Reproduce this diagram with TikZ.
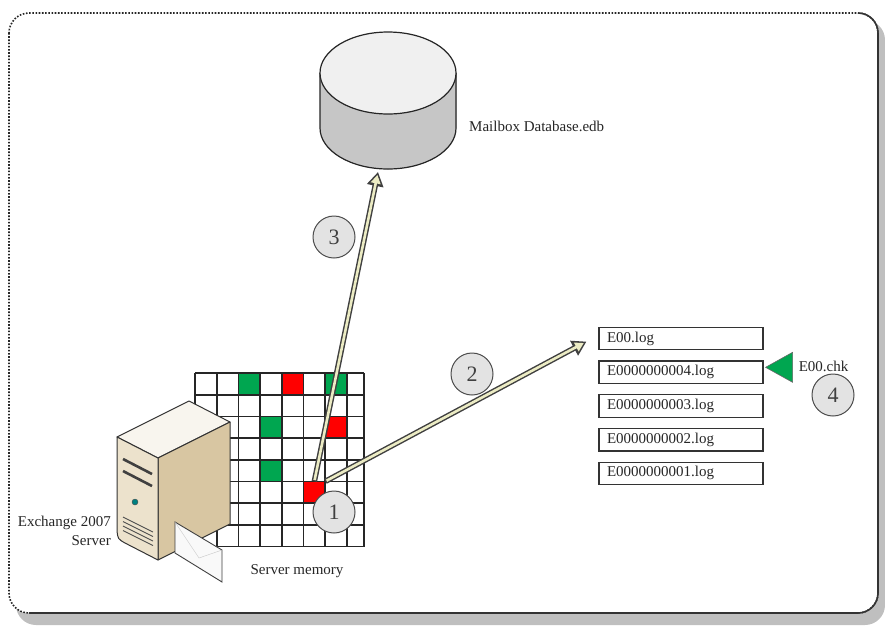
\documentclass[tikz,border=0pt]{standalone}
\usepackage{fontspec}
\setmainfont{Liberation Serif}
\usetikzlibrary{positioning}
\usetikzlibrary{matrix,calc,arrows.meta}

\definecolor{srvfront}{RGB}{236,226,204}
\definecolor{srvside}{RGB}{216,198,162}
\definecolor{srvtop}{RGB}{248,245,238}
\definecolor{memgreen}{RGB}{0,166,80}
\definecolor{memred}{RGB}{255,0,0}
\definecolor{pipe}{RGB}{236,236,196}

\begin{document}
\begin{tikzpicture}[
    x=1pt, y=-1pt,
    lbl/.style={
        font=\fontsize{15}{19}\selectfont,
        text=black!85,
        inner sep=0pt,
    },
    logbox/.style={
        draw=black!80,
        line width=1.2pt,
        font=\fontsize{15}{16}\selectfont,
        text=black!85,
        align=left,
        text width=148pt,
        inner xsep=8pt,
        inner ysep=0pt,
        minimum height=22.5pt,
    },
    stepnum/.style={
        circle,
        draw=black!70,
        line width=1pt,
        fill=gray!22,
        minimum size=42pt,
        inner sep=0pt,
        font=\fontsize{22}{22}\selectfont,
        text=black!75,
    },
    memline/.style={draw=black!85, line width=1.6pt},
    cellnode/.style={minimum size=21.7pt, inner sep=0pt},
    srv/.style={draw=black!80, line width=1pt, line join=round},
    pipeout/.style={
        draw=black!75,
        line width=5.5pt,
        -{Triangle[length=14pt,width=16pt]},
    },
    pipein/.style={
        draw=pipe,
        line width=2.6pt,
        shorten >=3pt, shorten <=1.3pt,
        -{Triangle[length=8.5pt,width=9.5pt]},
    },
]
    \useasboundingbox (0,0) rectangle (885,625);
    % ~~~ frame with drop shadow ~~~~~~~~~~~~
    \fill[black!25, rounded corners=20pt] (16,20) rectangle (885,625);
    \fill[white, rounded corners=20pt] (9,13) rectangle (878,613);
    \draw[black!85, line width=1.6pt, dash pattern=on 1.6pt off 1.6pt,
          rounded corners=20pt] (9,13) rectangle (878,613);
    \draw[black!80, line width=1.6pt] (858,13) arc[start angle=270, end angle=360, radius=20]
        -- (878,593) arc[start angle=0, end angle=90, radius=20] -- (29,613);

    % ~~~ mailbox database ~~~~~~~~~~~~
    \coordinate (db) at (388,128);
    \fill[left color=gray!45, middle color=white, right color=gray!45]
        (320,73) -- (320,128) arc[start angle=180, end angle=0, x radius=68, y radius=41]
        -- (456,73) arc[start angle=0, end angle=180, x radius=68, y radius=41] -- cycle;
    \draw[black!85, line width=1.2pt] (320,73) -- (320,128)
        arc[start angle=180, end angle=0, x radius=68, y radius=41] -- (456,73);
    \filldraw[fill=gray!12, draw=black!85, line width=1.2pt] (388,73) ellipse[x radius=68, y radius=41];
    \node[lbl, anchor=west] (dbname) at (469,126) {Mailbox Database.edb};

    % ~~~ server memory pages ~~~~~~~~~~~~
    \def\cellsz{21.7}
    \foreach \c/\r/\col in {2/0/memgreen, 4/0/memred, 6/0/memgreen,
                            3/2/memgreen, 6/2/memred, 3/4/memgreen}
        \fill[\col] (195+\c*\cellsz,373+\r*\cellsz) rectangle ++(\cellsz,\cellsz);
    \node[cellnode, fill=memred] (dirty) at (195+5.5*\cellsz,373+5.5*\cellsz) {};
    \foreach \r in {0,...,8}
        \draw[memline] (195,373+\r*\cellsz) -- (364,373+\r*\cellsz);
    \foreach \c in {0,...,7}
        \draw[memline] (195+\c*\cellsz,373) -- (195+\c*\cellsz,373+8*\cellsz);
    \draw[memline] (364,373) -- (364,373+8*\cellsz);
    \node[lbl] (memname) at (297,571) {Server memory};

    % ~~~ exchange server box ~~~~~~~~~~~~
    \filldraw[srv, fill=srvtop] (117,437) -- (189,401) -- (230,422) -- (158,458) -- cycle;
    \filldraw[srv, fill=srvside] (158,458) -- (230,422) -- (230,524) -- (158,560) -- cycle;
    \filldraw[srv, fill=srvfront] (117,437) -- (158,458) -- (158,560) -- (125,543)
        .. controls (118,539) .. (117,531) -- cycle;
    \draw[black!75, line width=2.6pt] (123,459) -- (152,474);
    \draw[black!75, line width=2.6pt] (123,471) -- (152,486);
    \filldraw[fill=teal, draw=black!70] (135,502) circle[radius=3];
    \foreach \k in {0,...,3}
        \draw[black!70, line width=0.9pt] (123,517+4.5*\k) -- (153,532+4.5*\k);
    \filldraw[fill=gray!5, draw=black!75, line width=0.9pt]
        (175,522) -- (222,550) -- (222,582) -- (175,553) -- cycle;
    \draw[gray!45] (175,522) -- (199,558) -- (222,550);
    \node[lbl, anchor=east, align=right] (srvname) at (111,531) {Exchange 2007\\Server};

    % ~~~ transaction logs ~~~~~~~~~~~~
    \matrix (logs) [matrix of nodes, row sep=10pt, nodes={logbox}] at (681,406) {
        E00.log \\
        E0000000004.log \\
        E0000000003.log \\
        E0000000002.log \\
        E0000000001.log \\
    };
    \coordinate (chk) at ($(logs-2-1.east)+(2,-5)$);
    \filldraw[fill=memgreen, draw=black!60, line width=0.6pt]
        (chk) -- ++(27,-15) -- ++(0,30) -- cycle;
    \node[lbl, anchor=west] (chkname) at ($(chk)+(33,-1)$) {E00.chk};

    % ~~~ write paths out of memory ~~~~~~~~~~~~
    \coordinate (db-in) at ($(db)+(-10,44)$);
    \coordinate (log-in) at ($(logs-1-1.west)+(-12,3)$);
    \draw[pipeout] (dirty.north) -- (db-in);
    \draw[pipein] (dirty.north) -- (db-in);
    \draw[pipeout] (dirty.north east) -- (log-in);
    \draw[pipein] (dirty.north east) -- (log-in);

    % ~~~ numbered steps ~~~~~~~~~~~~
    \node[stepnum] (s1) at (334,512) {1};
    \node[stepnum] (s2) at (472,374) {2};
    \node[stepnum] (s3) at (334,237) {3};
    \node[stepnum] (s4) at (833,395) {4};
\end{tikzpicture}
\end{document}
